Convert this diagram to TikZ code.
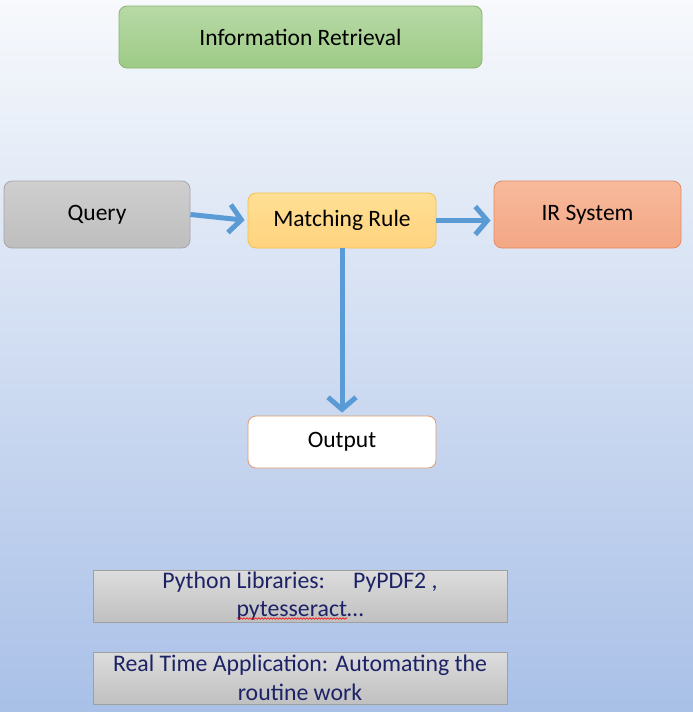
\documentclass[tikz,border=0pt]{standalone}
\usepackage{fontspec}
\setmainfont{Carlito}
\usetikzlibrary{arrows.meta,decorations.pathmorphing}
\definecolor{bgtop}{HTML}{F7F9FC}
\definecolor{bgbot}{HTML}{A9C0E7}
\definecolor{arrowc}{HTML}{5B9BD5}
\definecolor{txtdark}{HTML}{1C2266}
\definecolor{gDraw}{HTML}{8AB46F}\definecolor{gTop}{HTML}{B8D9A6}\definecolor{gBot}{HTML}{9DCB87}
\definecolor{qDraw}{HTML}{A6A6A6}\definecolor{qTop}{HTML}{CFCFCF}\definecolor{qBot}{HTML}{BEBEBE}
\definecolor{yDraw}{HTML}{F2C14B}\definecolor{yTop}{HTML}{FFDF94}\definecolor{yBot}{HTML}{FFD37E}
\definecolor{oDraw}{HTML}{E58A62}\definecolor{oTop}{HTML}{F7BA9C}\definecolor{oBot}{HTML}{F3A785}
\definecolor{wDraw}{HTML}{DE9A70}
\definecolor{iDraw}{HTML}{A0A0A0}\definecolor{iTop}{HTML}{DDDDDD}\definecolor{iBot}{HTML}{C0C0C0}
\tikzset{
  box/.style={rounded corners=8pt, align=center, text=black, font=\fontsize{23.5}{28}\selectfont, line width=0.8pt, inner sep=0pt},
  greenbox/.style={box, draw=gDraw, top color=gTop, bottom color=gBot},
  graybox/.style={box, draw=qDraw, top color=qTop, bottom color=qBot},
  yellowbox/.style={box, draw=yDraw, top color=yTop, bottom color=yBot},
  orangebox/.style={box, draw=oDraw, top color=oTop, bottom color=oBot},
  whitebox/.style={box, draw=wDraw, fill=white},
  infobox/.style={draw=iDraw, line width=0.8pt, top color=iTop, bottom color=iBot, align=center, text=txtdark, font=\fontsize{23.8}{28.5}\selectfont, inner sep=0pt, minimum width=414pt, minimum height=52pt},
  flow/.style={draw=arrowc, line width=5pt, -{Straight Barb[length=12pt, width=28pt]}, shorten >=3pt},
}
\begin{document}
\begin{tikzpicture}[x=1pt,y=1pt]
\useasboundingbox (0,0) rectangle (693,-712);
\shade[top color=bgtop, bottom color=bgbot] (0,0) rectangle (693,-712);

\node[greenbox, minimum width=363pt, minimum height=62pt] (ir) at (300.5,-37) {Information Retrieval};
\node[graybox, minimum width=186pt, minimum height=67pt] (q) at (97,-214.5) {Query};
\node[yellowbox, minimum width=188pt, minimum height=55pt] (m) at (342,-220.5) {Matching Rule};
\node[orangebox, minimum width=187pt, minimum height=67pt] (irs) at (587.5,-214.5) {IR System};
\node[whitebox, minimum width=188pt, minimum height=52pt] (out) at (342,-442) {Output};

\node[infobox] (py) at (300,-596) {Python Libraries:\hspace{28pt}PyPDF2 ,\\pytesseract…};
\node[infobox] (rt) at (300,-678) {Real Time Application: Automating the\\routine work};

\draw[red, line width=0.6pt, decorate, decoration={snake, segment length=3pt, amplitude=0.8pt}] (237,-618.5) -- (347,-618.5);

\draw[flow] (q.east) -- (m.west);
\draw[flow] (m.east) -- (m.east -| irs.west);
\draw[flow] (m.south) -- (out.north);
\end{tikzpicture}
\end{document}
